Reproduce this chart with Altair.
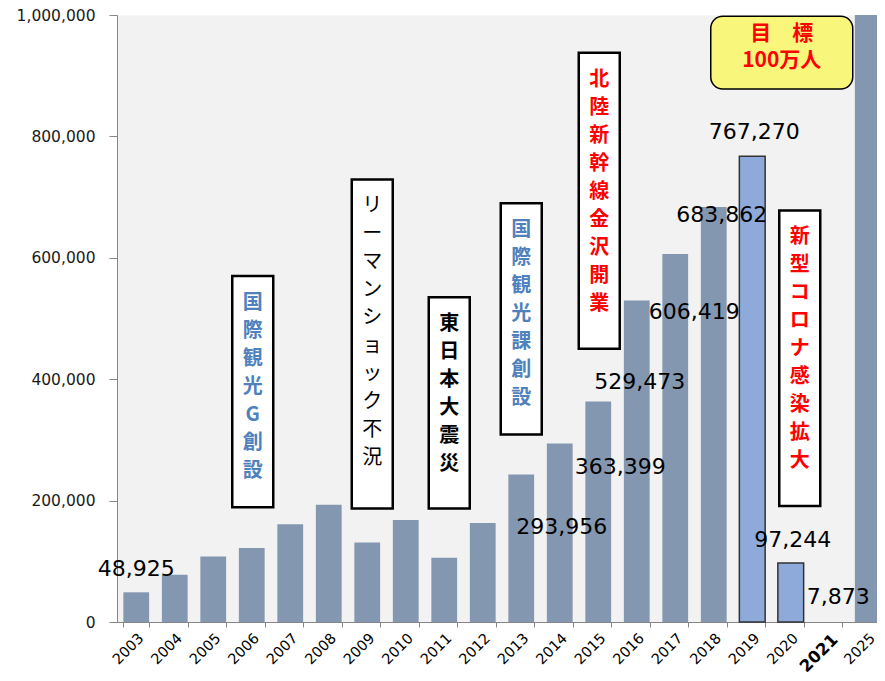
import altair as alt
import pandas as pd

# ---- data ----
years = ["2003", "2004", "2005", "2006", "2007", "2008", "2009", "2010", "2011", "2012",
         "2013", "2014", "2015", "2016", "2017", "2018", "2019", "2020", "2021", "2025"]
visitors = [48925, 78000, 108000, 122000, 161000, 193000, 131000, 168000, 106000, 163000,
            243000, 293956, 363399, 529473, 606419, 683862, 767270, 97244, 7873, 1000000]
bar_kind = ["base"] * 16 + ["highlight", "highlight", "hidden", "base"]

label_years = ["2003", "2014", "2015", "2016", "2017", "2018", "2019", "2020", "2021"]
label_texts = ["48,925", "293,956", "363,399", "529,473", "606,419", "683,862",
               "767,270", "97,244", "7,873"]
label_anchor = [87000, 156000, 255000, 396000, 511000, 670000, 808000, 135000, 41500]
label_shift = [0, 2, 22, 3, 19, 8, 2, 2, 9]

box_years = ["2006", "2009", "2011", "2013", "2015", "2020"]
box_texts = ["国際観光G創設", "リーマンショック不況", "東日本大震災",
             "国際観光課創設", "北陸新幹線金沢開業", "新型コロナ感染拡大"]
box_kind = ["policy", "event", "event", "policy", "milestone", "milestone"]
box_top = [570000, 729000, 535000, 690000, 938000, 678000]
box_bottom = [189000, 187000, 187000, 309000, 450000, 191000]
box_shift = [1, 5, 5, 0, 1, 9]

target_year = ["2020"]
target_text = ["目　標\n100万人"]
target_top = [998000]
target_bottom = [878000]
target_shift = [-9]

bars_df = pd.DataFrame({"year": years, "visitors": visitors, "kind": bar_kind})
labels_df = pd.DataFrame({"year": label_years, "text": label_texts,
                          "anchor": label_anchor, "dx": label_shift})
boxes_df = pd.DataFrame({"year": box_years,
                         "text": ["\n".join(list(t)) for t in box_texts],
                         "kind": box_kind, "top": box_top, "bottom": box_bottom,
                         "dx": box_shift})
target_df = pd.DataFrame({"year": target_year, "text": target_text,
                          "top": target_top, "bottom": target_bottom, "dx": target_shift})

x_scale = alt.Scale(domain=years, paddingInner=0.33, paddingOuter=0.165, range=[0, 770])
x_enc = alt.X("year:N", sort=years, scale=x_scale,
              axis=alt.Axis(title=None, labelAngle=315, labelFont="DejaVu Sans",
                            labelFontSize=alt.expr("datum.value == '2021' ? 16.5 : 14.5"),
                            labelFontWeight=alt.expr("datum.value == '2021' ? 'bold' : 'normal'"),
                            labelColor="#000000", domainColor="#868686", tickColor="#868686",
                            tickBand="extent", tickSize=5, labelPadding=4))
y_scale = alt.Scale(domain=[0, 1000000], nice=False)
y_enc = alt.Y("visitors:Q", scale=y_scale,
              axis=alt.Axis(title=None, values=[0, 200000, 400000, 600000, 800000, 1000000],
                            format=",.0f", labelFont="DejaVu Sans", labelFontSize=15.5,
                            labelColor="#1a1a1a", domainColor="#868686", tickColor="#868686",
                            tickSize=8, grid=False, labelPadding=14))

bars = alt.Chart(bars_df).mark_bar(strokeWidth=1.5).encode(
    x=x_enc,
    y=y_enc,
    color=alt.Color("kind:N", legend=None,
                    scale=alt.Scale(domain=["base", "highlight", "hidden"],
                                    range=["#8497b0", "#8eaadb", "transparent"])),
    stroke=alt.condition("datum.kind == 'highlight'", alt.value("#333333"),
                         alt.value("transparent")),
)

labels = alt.Chart(labels_df).mark_text(
    font="DejaVu Sans", fontSize=22, color="#000000", baseline="middle", align="center",
    dx=alt.expr("datum.dx"),
).encode(
    x=alt.X("year:N", sort=years, scale=x_scale),
    y=alt.Y("anchor:Q", scale=y_scale),
    text="text:N",
)

boxes = alt.Chart(boxes_df).mark_bar(
    size=41, fill="#ffffff", stroke="#000000", strokeWidth=2.5,
    xOffset=alt.expr("datum.dx"),
).encode(
    x=alt.X("year:N", sort=years, scale=x_scale),
    y=alt.Y("top:Q", scale=y_scale),
    y2="bottom:Q",
)

box_text = alt.Chart(boxes_df).mark_text(
    font="Noto Sans CJK JP", fontSize=20, lineBreak="\n", lineHeight=28,
    baseline="top", align="center", dy=17,
    fontWeight=alt.expr("datum.year == '2009' ? 'normal' : 'bold'"),
    dx=alt.expr("datum.dx"),
).encode(
    x=alt.X("year:N", sort=years, scale=x_scale),
    y=alt.Y("top:Q", scale=y_scale),
    text="text:N",
    color=alt.Color("kind:N", legend=None,
                    scale=alt.Scale(domain=["policy", "event", "milestone"],
                                    range=["#4f81bd", "#000000", "#ff0000"])),
)

target_box = alt.Chart(target_df).mark_bar(
    size=142, fill="#f8f77c", stroke="#000000", strokeWidth=1.5, cornerRadius=12,
    xOffset=alt.expr("datum.dx"),
).encode(
    x=alt.X("year:N", sort=years, scale=x_scale),
    y=alt.Y("top:Q", scale=y_scale),
    y2="bottom:Q",
)

target_label = alt.Chart(target_df).mark_text(
    font="Noto Sans CJK JP", fontSize=21, fontWeight="bold", color="#ff0000",
    lineBreak="\n", lineHeight=27, baseline="top", align="center", dy=7,
    dx=alt.expr("datum.dx"),
).encode(
    x=alt.X("year:N", sort=years, scale=x_scale),
    y=alt.Y("top:Q", scale=y_scale),
    text="text:N",
)

chart = alt.layer(bars, boxes, box_text, target_box, target_label, labels).resolve_scale(
    color="independent"
).properties(
    width=760, height=607,
    padding={"left": 109, "top": 7, "right": 0, "bottom": 51},
    autosize=alt.AutoSizeParams(type="none"),
).configure_view(fill="#f2f2f2", stroke="transparent")

chart.save("out.html", embed_options={"renderer": "svg", "actions": False})
